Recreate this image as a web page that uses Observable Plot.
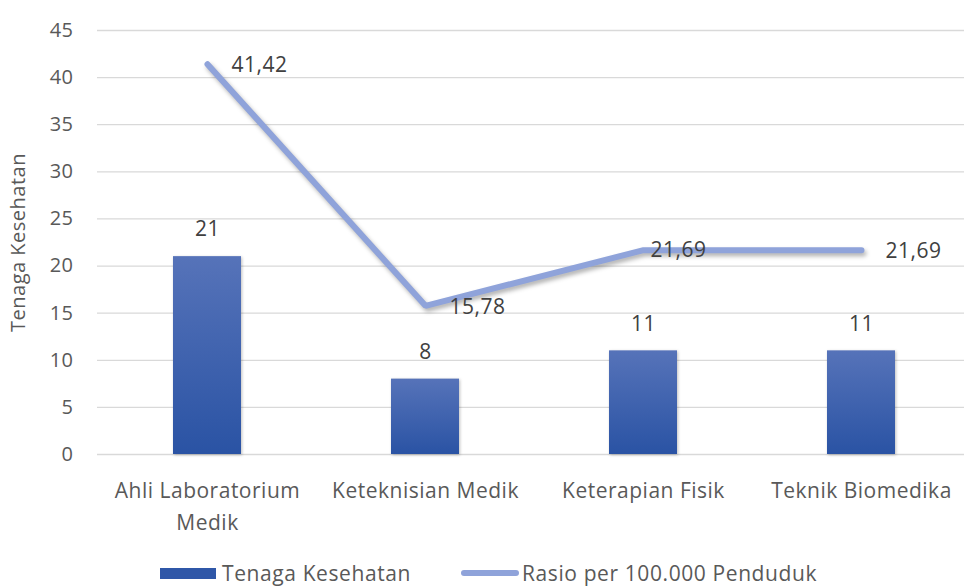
<!DOCTYPE html>
<html>
<head>
<meta charset="utf-8">
<script src="https://cdn.jsdelivr.net/npm/d3@7"></script>
<script src="https://cdn.jsdelivr.net/npm/@observablehq/plot@0.6"></script>
<style>
  html, body { margin: 0; padding: 0; background: #fff; width: 964px; height: 586px; overflow: hidden; position: relative; }
  #chart { position: absolute; left: 0; top: 0; }
  #legend { position: absolute; left: 0; top: 561px; width: 964px; height: 24px; font-family: "Open Sans", sans-serif; font-size: 21px; letter-spacing: 0.6px; color: #595959; }
  .item { position: absolute; top: 0; display: flex; align-items: center; height: 24px; white-space: nowrap; }
  .swatch-bar { width: 56px; height: 11px; background: #2f57a8; margin-right: 6px; }
  .swatch-line { width: 58px; height: 6px; border-radius: 3px; background: #8fa3da; margin-right: 3px; }
</style>
</head>
<body>
<div id="chart"></div>
<div id="legend">
  <div class="item" style="left:160px"><div class="swatch-bar"></div><span>Tenaga Kesehatan</span></div>
  <div class="item" style="left:461px"><div class="swatch-line"></div><span>Rasio per 100.000 Penduduk</span></div>
</div>
<script>
const categories = ["Ahli Laboratorium\nMedik", "Keteknisian Medik", "Keterapian Fisik", "Teknik Biomedika"];
const tenaga = [21, 8, 11, 11];
const rasio = [41.42, 15.78, 21.69, 21.69];
const rasioLabels = ["41,42", "15,78", "21,69", "21,69"];
const yTicks = [0, 5, 10, 15, 20, 25, 30, 35, 40, 45];

const data = categories.map((c, i) => ({cat: c, tenaga: tenaga[i], rasio: rasio[i], label: rasioLabels[i], i}));

const gradientDefs = () => {
  const defs = d3.create("svg:defs");
  const g = defs.append("linearGradient").attr("id", "barGrad").attr("x1", 0).attr("y1", 0).attr("x2", 0).attr("y2", 1);
  g.append("stop").attr("offset", "0%").attr("stop-color", "#5673b9");
  g.append("stop").attr("offset", "100%").attr("stop-color", "#2a53a4");
  return defs.node();
};

const plot = Plot.plot({
  width: 964,
  height: 555,
  marginLeft: 97,
  marginRight: 0,
  marginTop: 30,
  marginBottom: 101,
  style: {fontFamily: "'Open Sans', sans-serif", fontSize: "21px", letterSpacing: "0.5px", color: "#595959", background: "#fff"},
  x: {domain: categories, range: [97, 971], paddingInner: 0.69, paddingOuter: 0.345, label: null},
  y: {domain: [0, 45], label: "Tenaga Kesehatan"},
  marks: [
    gradientDefs,
    Plot.gridY(yTicks, {stroke: "#d9d9d9", strokeOpacity: 1, strokeWidth: 1.3}),
    Plot.axisY(yTicks, {tickSize: 0, tickPadding: 24, fontSize: 20, fill: "#595959", label: "Tenaga Kesehatan", labelAnchor: "center", labelArrow: "none", labelOffset: 87}),
    Plot.axisX({tickSize: 0, tickPadding: 21, fontSize: 21, fill: "#595959", lineHeight: 1.52, label: null}),
    Plot.barY(data, {x: "cat", y: "tenaga", fill: "url(#barGrad)", imageFilter: "drop-shadow(1px 1px 1.5px rgba(0,0,0,0.25))"}),
    Plot.text(data, {x: "cat", y: "tenaga", text: d => String(d.tenaga), dy: -27, fill: "#404040", fontSize: 21}),
    Plot.line(data, {x: "cat", y: "rasio", stroke: "#8fa3da", strokeWidth: 6, strokeLinecap: "round", strokeLinejoin: "miter", imageFilter: "drop-shadow(2px 3px 2px rgba(0,0,0,0.3))"}),
    Plot.text(data.filter(d => d.i !== 2), {x: "cat", y: "rasio", text: "label", dx: 24, dy: 1, textAnchor: "start", fill: "#404040", fontSize: 21}),
    Plot.text(data.filter(d => d.i === 2), {x: "cat", y: "rasio", text: "label", dx: 7, dy: 0, textAnchor: "start", fill: "#404040", fontSize: 21})
  ]
});
document.getElementById("chart").appendChild(plot);
</script>
</body>
</html>
